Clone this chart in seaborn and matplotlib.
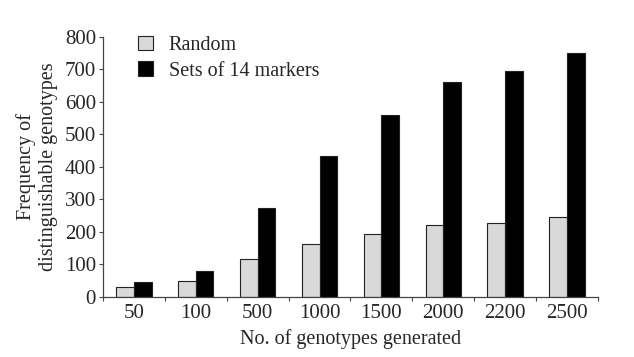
import matplotlib
matplotlib.use("Agg")
import matplotlib.pyplot as plt
import seaborn as sns
import pandas as pd
import numpy as np
from matplotlib.ticker import FixedLocator

categories = ["50", "100", "500", "1000", "1500", "2000", "2200", "2500"]
random_vals = [30, 47, 116, 161, 192, 220, 227, 244]
marker_vals = [44, 80, 272, 434, 558, 660, 696, 749]
series_names = ["Random", "Sets of 14 markers"]

df = pd.DataFrame({
    "cat": categories * 2,
    "val": random_vals + marker_vals,
    "series": [series_names[0]] * len(categories) + [series_names[1]] * len(categories),
})

sns.set_style("white")
plt.rcParams["font.family"] = ["Liberation Serif", "DejaVu Serif"]

fig = plt.figure(figsize=(6.34, 3.57), dpi=100)
ax = fig.add_axes([0.1625, 0.169, 0.7805, 0.728])

sns.barplot(data=df, x="cat", y="val", hue="series", order=categories,
            hue_order=series_names, palette=["#d9d9d9", "#000000"],
            width=0.57, edgecolor="#222222", linewidth=0.8, ax=ax,
            saturation=1, errorbar=None)

ax.set_ylim(0, 800)
ax.set_xlim(-0.5, len(categories) - 0.5)
ax.set_yticks(np.arange(0, 801, 100))
ax.tick_params(axis="y", labelsize=15, length=3, width=0.8, left=True, pad=2, color="#444444")
ax.tick_params(axis="x", which="major", labelsize=15, length=0, pad=5)
ax.xaxis.set_minor_locator(FixedLocator(np.arange(-0.5, len(categories), 1.0)))
ax.tick_params(axis="x", which="minor", length=3, width=0.8, bottom=True, color="#444444")

for s in ["top", "right"]:
    ax.spines[s].set_visible(False)
for s in ["left", "bottom"]:
    ax.spines[s].set_color("#444444")
    ax.spines[s].set_linewidth(0.9)

ax.set_xlabel("No. of genotypes generated", fontsize=14.5, labelpad=5)
ax.set_ylabel("Frequency of\ndistinguishable genotypes", fontsize=14.5, labelpad=5)

ax.legend(loc="upper left", bbox_to_anchor=(0.055, 1.035), frameon=False, fontsize=14.5,
          handlelength=0.75, handleheight=0.75, handletextpad=0.75, labelspacing=0.3,
          borderaxespad=0)

fig.savefig("out.png", dpi=100)
